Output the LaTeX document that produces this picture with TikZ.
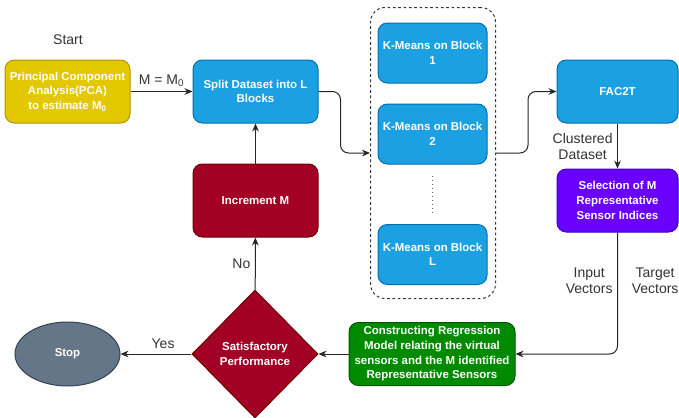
\documentclass[tikz,border=0pt]{standalone}
\usepackage{fontspec}
\setmainfont{Liberation Sans}
\usetikzlibrary{shapes.geometric,arrows.meta,quotes}

\definecolor{jaune}{HTML}{E3C800}
\definecolor{jauneB}{HTML}{B09500}
\definecolor{bleu}{HTML}{1BA1E2}
\definecolor{bleuB}{HTML}{006EAF}
\definecolor{violet}{HTML}{6A00FF}
\definecolor{violetB}{HTML}{3700CC}
\definecolor{vert}{HTML}{008A00}
\definecolor{vertB}{HTML}{005700}
\definecolor{rouge}{HTML}{A20025}
\definecolor{rougeB}{HTML}{6F0000}
\definecolor{gris}{HTML}{647687}
\definecolor{grisB}{HTML}{314354}
\definecolor{texte}{HTML}{333333}

\tikzset{
	boite/.style={rectangle,rounded corners=7pt,line width=0.75pt,text=white,align=center,
		font=\fontsize{8.6}{11}\selectfont\bfseries,inner sep=2pt},
	etiquette/.style={text=texte,align=center,font=\fontsize{10.5}{12}\selectfont},
	fleche/.style={-{Stealth[length=6pt,width=5pt]},line width=0.75pt,black!85},
}

\begin{document}
\begin{tikzpicture}[x=0.75pt,y=-0.75pt]
		\useasboundingbox (0,0) rectangle (679,418);

		%\node (nom node) at(x,y) [style,couleurs,taille] {affichage} ;
		\node (node Start) at(68,40) [etiquette] {Start} ;
		\node (node PCA) at(67.5,91.5) [boite,fill=jaune,draw=jauneB,minimum width=93.75pt,minimum height=47.25pt] {Principal Component\\Analysis(PCA)\\to estimate M\textsubscript{0}} ;
		\node (node Split) at(255.5,91.5) [boite,fill=bleu,draw=bleuB,minimum width=93.75pt,minimum height=47.25pt] {Split Dataset into L\\Blocks} ;
		\node (node Incr) at(255.5,200.5) [boite,fill=rouge,draw=rougeB,minimum width=93.75pt,minimum height=54.75pt] {Increment M} ;

		% le cadre en pointillés des blocs
		\node (node Blocks) at(433,153) [rectangle,rounded corners=11pt,draw=black!80,line width=0.75pt,dash pattern=on 2pt off 2pt,minimum width=93.75pt,minimum height=218.25pt] {} ;
		\node (node KM1) at(432.5,53) [boite,fill=bleu,draw=bleuB,minimum width=81.75pt,minimum height=45pt] {K-Means on Block\\1} ;
		\node (node KM2) at(432.5,134) [boite,fill=bleu,draw=bleuB,minimum width=81.75pt,minimum height=45pt] {K-Means on Block\\2} ;
		\node (node KML) at(432.5,254.5) [boite,fill=bleu,draw=bleuB,minimum width=81.75pt,minimum height=45pt] {K-Means on Block\\L} ;
		\coordinate (dots top) at(432.5,176) ;
		\coordinate (dots bottom) at(432.5,213) ;

		\node (node FAC2T) at(617.5,91.5) [boite,fill=bleu,draw=bleuB,minimum width=90.75pt,minimum height=47.25pt] {FAC2T} ;
		\node (node Select) at(617.5,200.5) [boite,fill=violet,draw=violetB,minimum width=90.75pt,minimum height=47.25pt] {Selection of M\\Representative\\Sensor Indices} ;
		\node (node Regr) at(432,354) [boite,fill=vert,draw=vertB,minimum width=124.5pt,minimum height=47.25pt] {Constructing Regression\\Model relating the virtual\\sensors and the M identified\\Representative Sensors} ;
		\node (node Decision) at(255,354) [diamond,fill=rouge,draw=rougeB,line width=0.75pt,text=white,align=center,inner sep=0pt,
			font=\fontsize{8.6}{11}\selectfont\bfseries,minimum width=94.5pt,minimum height=96pt] {Satisfactory\\Performance} ;
		\node (node Stop) at(67.5,354) [ellipse,fill=gris,draw=grisB,line width=0.75pt,text=white,
			font=\fontsize{8.6}{11}\selectfont\bfseries,minimum width=78.75pt,minimum height=48pt] {Stop} ;

		%\path (nom node A) edge[options] (nom node B);
		\path
		(node PCA) edge[fleche,"M = M\textsubscript{0}" etiquette] (node Split)
		(node Incr) edge[fleche] (node Split)
		(node Decision) edge[fleche,"No" etiquette] (node Incr)
		(node Regr) edge[fleche] (node Decision)
		(node Decision) edge[fleche,"Yes"' {etiquette,pos=0.4}] (node Stop)
		(node FAC2T) edge[fleche,"Clustered\\Dataset"' etiquette] (node Select)
		;
		\draw[line width=1pt,dotted,black!60] (dots top) -- (dots bottom);

		% les liaisons coudées
		\draw[fleche,rounded corners=6pt] (node Split.east) -- ++(22,0) |- (node Blocks.west);
		\draw[fleche,rounded corners=6pt] (node Blocks.east) -- ++(32,0) |- (node FAC2T.west);
		\draw[fleche,rounded corners=6pt] (node Select.south) |- (node Regr.east)
			node (lab Input) [pos=0.2,left,etiquette] {Input\\Vectors}
			node (lab Target) [pos=0.2,right,etiquette,xshift=7pt] {Target\\Vectors};
	\end{tikzpicture}
\end{document}
